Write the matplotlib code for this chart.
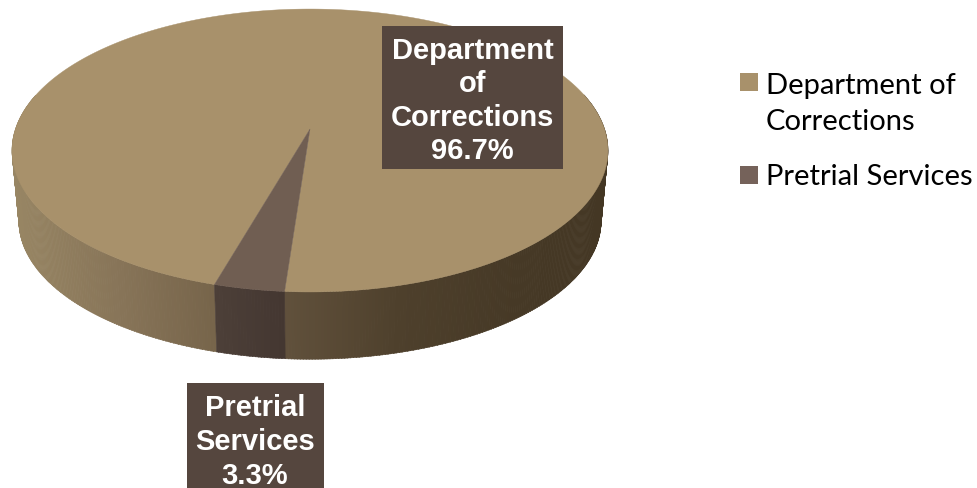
import numpy as np
import matplotlib
matplotlib.use("Agg")
import matplotlib.pyplot as plt
from matplotlib.patches import Rectangle, Polygon
from matplotlib.collections import PolyCollection

categories = ["Department of\nCorrections", "Pretrial Services"]
box_labels = ["Department\nof\nCorrections\n96.7%", "Pretrial\nServices\n3.3%"]
shares = [96.7, 3.3]
top_colors = ["#A8916B", "#705E52"]
legend_colors = ["#A8916B", "#75625A"]
label_bg = "#55463E"

W, H = 978, 489
fig = plt.figure(figsize=(W / 100, H / 100), dpi=100)
ax = fig.add_axes([0, 0, 1, 1])
ax.set_xlim(0, W)
ax.set_ylim(H, 0)
ax.axis("off")

# perspective projection of the pie disc
CX, CY = 310.0, 130.0
RX, RY, K = 294.5, 138.2, 0.152
SIDE_S, SIDE_DY = 0.977, 71.0
START = 4.2  # degrees clockwise from the front of the pie to the small slice


def project(deg, r=1.0, scale=1.0, dy=0.0):
    a = np.radians(deg)
    u = -r * np.sin(a)   # clockwise from the front, going left
    v = -r * np.cos(a)   # far side positive
    d = 1 + K * v
    return CX + scale * RX * u / d, CY + dy + scale * RY * (-v) / d


sweep = 360.0 * np.asarray(shares) / sum(shares)
ranges = [(START + sweep[1], START + sweep[1] + sweep[0]), (START, START + sweep[1])]

# side wall, shaded across its width
stops_x = [10, 120, 217, 283, 400, 520, 610]
stops_r = [152, 135, 118, 97, 78, 70, 68]
stops_g = [134, 116, 100, 81, 64, 57, 55]
stops_b = [100, 88, 74, 60, 44, 38, 36]
small_x = [217, 283]
small_r = [76, 68]
small_g = [63, 55]
small_b = [56, 49]

polys, cols = [], []
for i, (a0, a1) in enumerate(ranges):
    for lo in np.arange(a0, a1, 0.5):
        hi = min(lo + 0.6, a1)
        x0, y0 = project(lo)
        x1, y1 = project(hi)
        x2, y2 = project(hi, scale=SIDE_S, dy=SIDE_DY)
        x3, y3 = project(lo, scale=SIDE_S, dy=SIDE_DY)
        if np.cos(np.radians(lo)) < -0.25 and np.cos(np.radians(hi)) < -0.25:
            continue
        polys.append([(x0, y0), (x1, y1), (x2, y2), (x3, y3)])
        xm = (x0 + x1) / 2
        if i == 1:
            c = [np.interp(xm, small_x, small_r), np.interp(xm, small_x, small_g), np.interp(xm, small_x, small_b)]
        else:
            c = [np.interp(xm, stops_x, stops_r), np.interp(xm, stops_x, stops_g), np.interp(xm, stops_x, stops_b)]
        cols.append(np.array(c) / 255)
ax.add_collection(PolyCollection(polys, facecolors=cols, edgecolors=cols, linewidths=0.4, zorder=1))

# top face
for (a0, a1), colour in zip(ranges, top_colors):
    t = np.linspace(a0, a1, 400)
    xs, ys = project(t)
    pts = np.column_stack([np.r_[CX, xs], np.r_[CY, ys]])
    ax.add_patch(Polygon(pts, closed=True, facecolor=colour, edgecolor=colour, linewidth=0.3, zorder=2))

# data label boxes
ax.add_patch(Rectangle((382, 27), 181, 143, facecolor=label_bg, edgecolor="none", zorder=3))
ax.add_patch(Rectangle((187, 384), 137, 105, facecolor=label_bg, edgecolor="none", zorder=3))
ax.text(472.5, 101, box_labels[0], color="white", ha="center", va="center", zorder=4,
        family="Liberation Sans", weight="bold", fontsize=21, linespacing=1.25)
ax.text(255, 442, box_labels[1], color="white", ha="center", va="center", zorder=4,
        family="Liberation Sans", weight="bold", fontsize=21, linespacing=1.25)

# legend
ax.add_patch(Rectangle((740, 74), 18, 18, facecolor=legend_colors[0], edgecolor="none"))
ax.add_patch(Rectangle((740, 167), 18, 18, facecolor=legend_colors[1], edgecolor="none"))
ax.text(766, 104, categories[0], color="black", ha="left", va="center",
        family="Lato", fontsize=21, linespacing=1.5)
ax.text(766, 177, categories[1], color="black", ha="left", va="center",
        family="Lato", fontsize=21)

fig.savefig("out.png", dpi=100, facecolor="white")
